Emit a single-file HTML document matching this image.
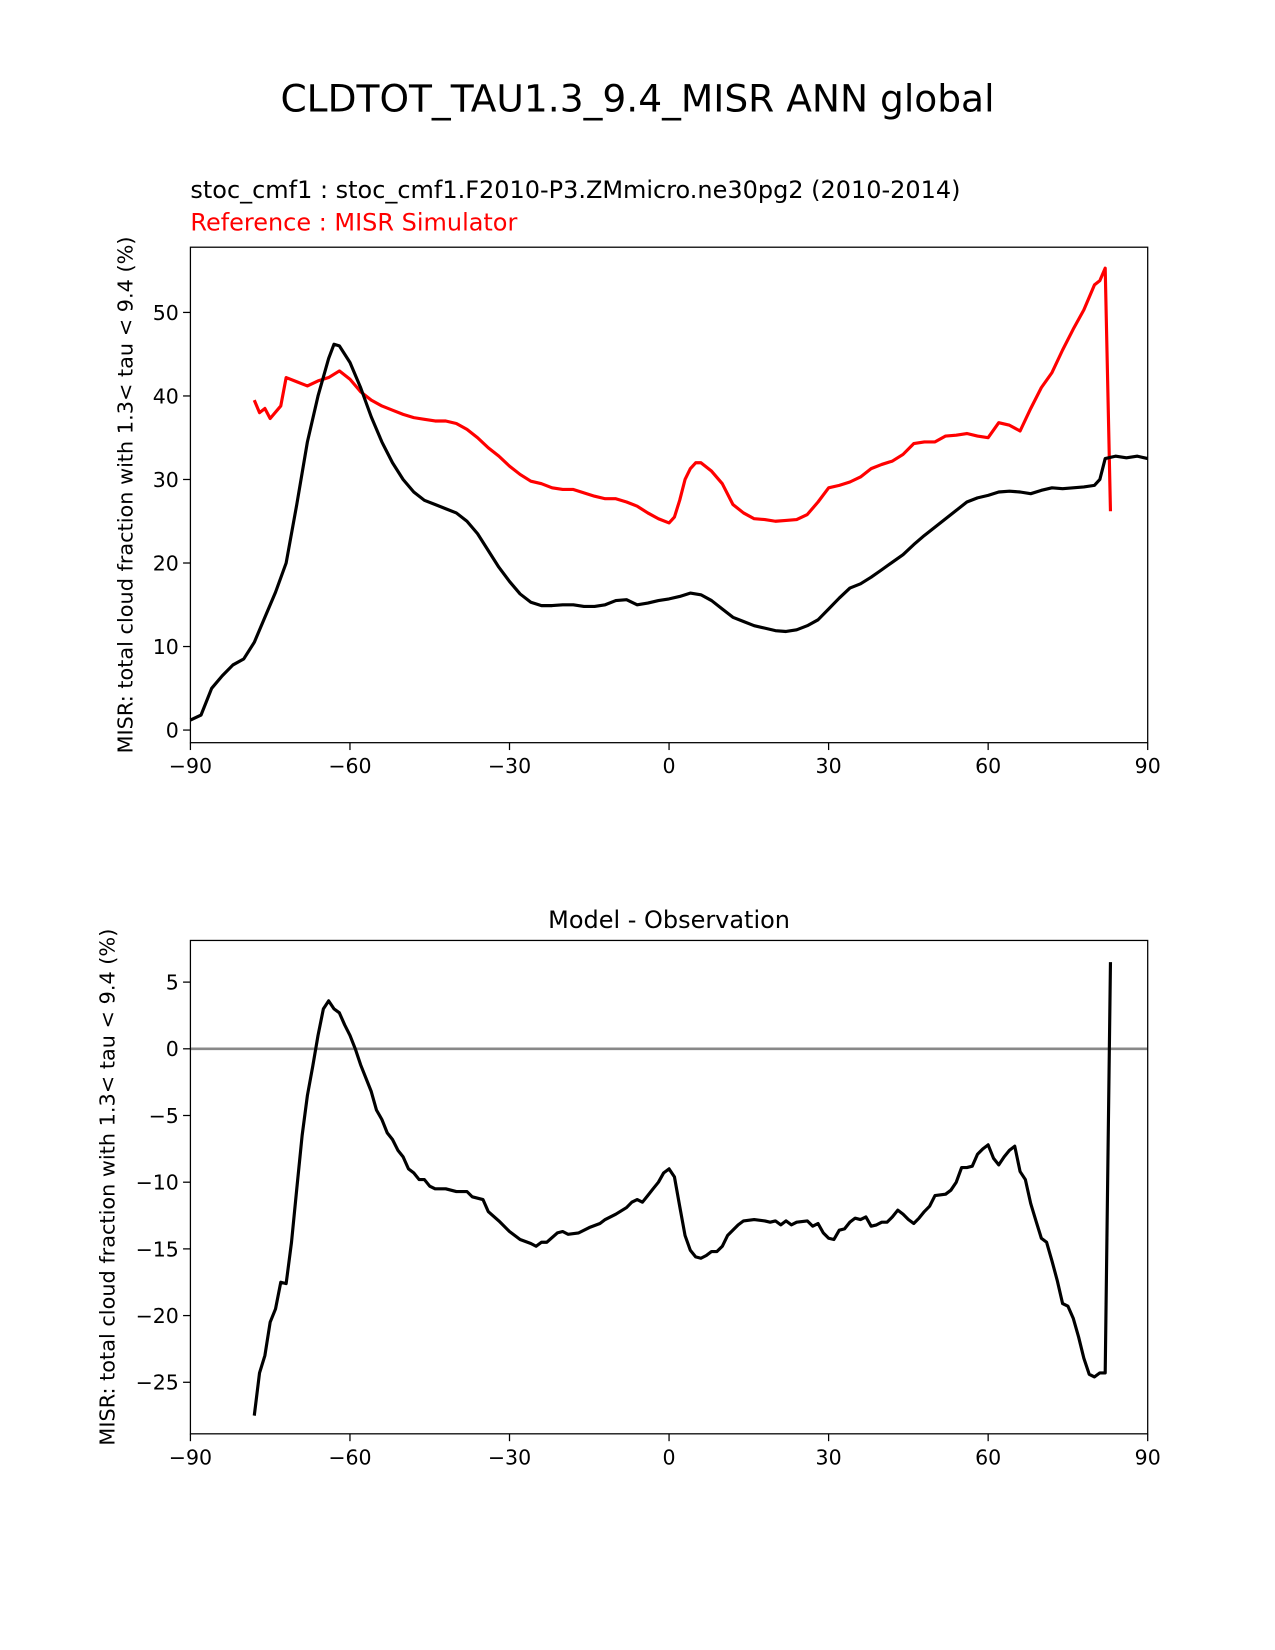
<!DOCTYPE html>
<html><head><meta charset="utf-8"><style>
body{margin:0;background:#fff}
svg{display:block;font-family:"DejaVu Sans","Liberation Sans",sans-serif}
</style></head><body>
<svg id="chart" width="1275" height="1650" viewBox="0 0 1212 1568.5">
<text x="606" y="106" font-size="35.7" text-anchor="middle">CLDTOT_TAU1.3_9.4_MISR ANN global</text>
<text x="181" y="188" font-size="22.8">stoc_cmf1 : stoc_cmf1.F2010-P3.ZMmicro.ne30pg2 (2010-2014)</text>
<text x="181" y="219" font-size="22.8" fill="red">Reference : MISR Simulator</text>
<text x="636" y="882" font-size="22.8" text-anchor="middle">Model - Observation</text>
<g id="top"></g>
<g id="bot"></g>
</svg>
<script>
const xTicks=[-90,-60,-30,0,30,60,90];
const xTickLabels=["\u221290","\u221260","\u221230","0","30","60","90"];
const topYTicks=[0,10,20,30,40,50];
const botYTicks=[-25,-20,-15,-10,-5,0,5];
const modelLat=[-90,-88,-86,-84,-82,-80,-78,-76,-74,-72,-70,-68,-66,-64,-63,-62,-60,-58,-56,-54,-52,-50,-48,-46,-44,-42,-40,-38,-36,-34,-32,-30,-28,-26,-24,-22,-20,-18,-16,-14,-12,-10,-8,-6,-4,-2,0,2,4,6,8,10,12,14,16,18,20,22,24,26,28,30,32,34,36,38,40,42,44,46,48,50,52,54,56,58,60,62,64,66,68,70,72,74,76,78,80,81,82,84,86,88,90];
const modelVal=[1.2,1.8,5,6.5,7.8,8.5,10.5,13.5,16.5,20,27,34.5,40,44.5,46.2,46,44,41,37.5,34.5,32,30,28.5,27.5,27,26.5,26,25,23.5,21.5,19.5,17.8,16.3,15.3,14.9,14.9,15,15,14.8,14.8,15,15.5,15.6,15,15.2,15.5,15.7,16,16.4,16.2,15.5,14.5,13.5,13,12.5,12.2,11.9,11.8,12,12.5,13.2,14.5,15.8,17,17.5,18.3,19.2,20.1,21,22.2,23.3,24.3,25.3,26.3,27.3,27.8,28.1,28.5,28.6,28.5,28.3,28.7,29,28.9,29,29.1,29.3,30,32.5,32.8,32.6,32.8,32.5];
const obsLat=[-78,-77,-76,-75,-73,-72,-70,-68,-66,-64,-62,-60,-58,-56,-54,-52,-50,-48,-46,-44,-42,-40,-38,-36,-34,-32,-30,-28,-26,-24,-22,-20,-18,-16,-14,-12,-10,-8,-6,-4,-2,0,1,2,3,4,5,6,8,10,12,14,16,18,20,22,24,26,28,30,32,34,36,38,40,42,44,46,48,50,52,54,56,58,60,62,64,66,68,70,72,74,76,78,80,81,82,83];
const obsVal=[39.5,38,38.5,37.3,38.8,42.2,41.7,41.2,41.8,42.2,43,42,40.5,39.5,38.8,38.3,37.8,37.4,37.2,37,37,36.7,36,35,33.8,32.8,31.6,30.6,29.8,29.5,29,28.8,28.8,28.4,28,27.7,27.7,27.3,26.8,26,25.3,24.8,25.5,27.5,30,31.3,32,32,31,29.5,27,26,25.3,25.2,25,25.1,25.2,25.8,27.3,29,29.3,29.7,30.3,31.3,31.8,32.2,33,34.3,34.5,34.5,35.2,35.3,35.5,35.2,35,36.8,36.5,35.8,38.5,41,42.8,45.5,48,50.3,53.3,53.8,55.3,26.2];
const diffLat=[-78,-77,-76,-75,-74,-73,-72,-71,-70,-69,-68,-67,-66,-65,-64,-63,-62,-61,-60,-59,-58,-56,-55,-54,-53,-52,-51,-50,-49,-48,-47,-46,-45,-44,-42,-40,-38,-37,-35,-34,-32,-30,-28,-26,-25,-24,-23,-21,-20,-19,-17,-15,-13,-12,-10,-8,-7,-6,-5,-4,-3,-2,-1,0,1,2,3,4,5,6,7,8,9,10,11,12,13,14,16,18,19,20,21,22,23,24,26,27,28,29,30,31,32,33,34,35,36,37,38,39,40,41,42,43,44,45,46,47,48,49,50,52,53,54,55,56,57,58,59,60,61,62,63,64,65,66,67,68,69,70,71,72,73,74,75,76,77,78,79,80,81,82,83];
const diffVal=[-27.5,-24.3,-23,-20.5,-19.5,-17.5,-17.6,-14.5,-10.5,-6.5,-3.5,-1.3,1,3,3.6,3,2.7,1.8,1,0,-1.2,-3.2,-4.6,-5.3,-6.3,-6.8,-7.6,-8.1,-9,-9.3,-9.8,-9.8,-10.3,-10.5,-10.5,-10.7,-10.7,-11.1,-11.3,-12.2,-12.9,-13.7,-14.3,-14.6,-14.8,-14.5,-14.5,-13.8,-13.7,-13.9,-13.8,-13.4,-13.1,-12.8,-12.4,-11.9,-11.5,-11.3,-11.5,-11,-10.5,-10,-9.3,-9,-9.6,-11.8,-14,-15.1,-15.6,-15.7,-15.5,-15.2,-15.2,-14.8,-14,-13.6,-13.2,-12.9,-12.8,-12.9,-13,-12.9,-13.2,-12.9,-13.2,-13,-12.9,-13.3,-13.1,-13.8,-14.2,-14.3,-13.6,-13.5,-13,-12.7,-12.8,-12.6,-13.3,-13.2,-13,-13,-12.6,-12.1,-12.4,-12.8,-13.1,-12.7,-12.2,-11.8,-11,-10.9,-10.6,-10,-8.9,-8.9,-8.8,-7.9,-7.5,-7.2,-8.2,-8.7,-8.1,-7.6,-7.3,-9.2,-9.8,-11.6,-12.9,-14.2,-14.5,-15.9,-17.4,-19.1,-19.3,-20.2,-21.6,-23.2,-24.4,-24.6,-24.3,-24.3,6.5];

const NS="http://www.w3.org/2000/svg";
function mk(parent,tag,attrs){const e=document.createElementNS(NS,tag);for(const k in attrs)e.setAttribute(k,attrs[k]);parent.appendChild(e);return e;}
const X0=181,X1=1091;
const xs=v=>X0+(v+90)/180*(X1-X0);
function axes(g,top,bot,ys,yTicks,ylabel,ylx,name){
  for(let i=0;i<xTicks.length;i++){
    const x=xs(xTicks[i]);
    const t=mk(g,'line',{x1:x,x2:x,y1:bot,y2:bot+7,stroke:'#000','stroke-width':1.2});
    
    const l=mk(g,'text',{x:x,y:bot+29,'font-size':19.5,'text-anchor':'middle'});l.textContent=xTickLabels[i];
    
  }
  for(const v of yTicks){
    const y=ys(v);
    const t=mk(g,'line',{x1:X0-7,x2:X0,y1:y,y2:y,stroke:'#000','stroke-width':1.2});
    
    const l=mk(g,'text',{x:X0-11,y:y+7,'font-size':19.5,'text-anchor':'end'});l.textContent=v<0?'\u2212'+(-v):String(v);
    
  }
  const yl=mk(g,'text',{x:0,y:0,'font-size':19.8,'text-anchor':'middle',transform:`translate(${ylx},${(top+bot)/2}) rotate(-90)`});
  yl.textContent=ylabel;
  
}
function line(g,lat,val,ys,color,name,w){
  const d=lat.map((v,i)=>(i?'L':'M')+xs(v).toFixed(1)+','+ys(val[i]).toFixed(1)).join('');
  const p=mk(g,'path',{d:d,fill:'none',stroke:color,'stroke-width':w,'stroke-linejoin':'round'});
  
}
function frame(g,top,bot,name){
  const r=mk(g,'rect',{x:X0,y:top,width:X1-X0,height:bot-top,fill:'none',stroke:'#000','stroke-width':1.2});
  
}
const ylab='MISR: total cloud fraction with 1.3< tau < 9.4 (%)';
const gt=document.getElementById('top');
const ysT=v=>694-v*7.94;
axes(gt,235,706,ysT,topYTicks,ylab,126,'top');
line(gt,obsLat,obsVal,ysT,'red','reference-line',3);
line(gt,modelLat,modelVal,ysT,'black','model-line',3);
frame(gt,235,706,'top');
const gb=document.getElementById('bot');
const ysB=v=>997-v*12.68;
axes(gb,894,1363,ysB,botYTicks,ylab,109,'diff');
const z=mk(gb,'line',{x1:X0,x2:X1,y1:ysB(0),y2:ysB(0),stroke:'#888','stroke-width':2.5});

line(gb,diffLat,diffVal,ysB,'black','difference-line',3);
frame(gb,894,1363,'diff');
</script>
</body></html>
